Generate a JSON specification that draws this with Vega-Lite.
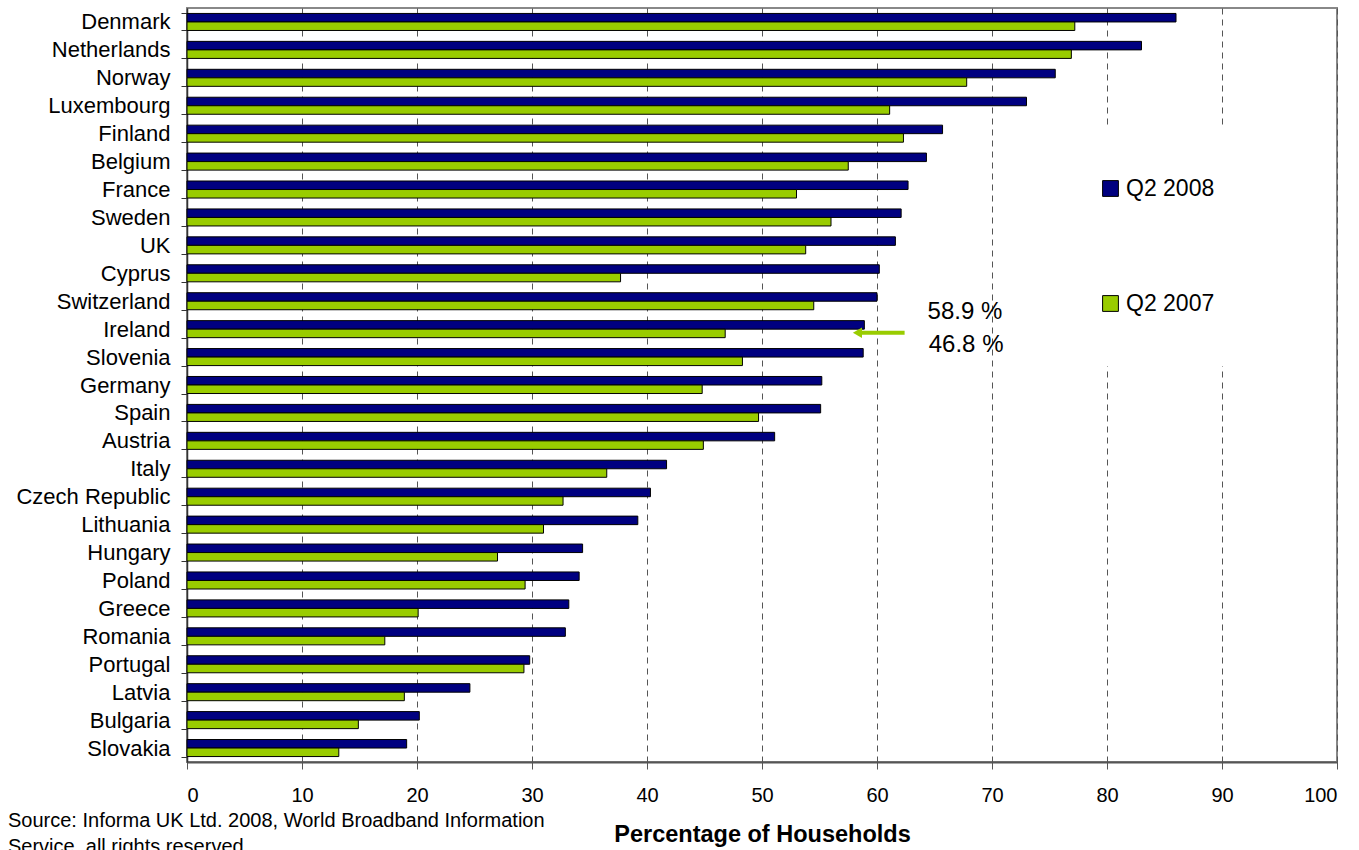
{
  "$schema": "https://vega.github.io/schema/vega-lite/v6.json",
  "width": 1150,
  "height": 754,
  "autosize": {"type": "none"},
  "padding": {"left": 187, "top": 8, "right": 22, "bottom": 88},
  "background": "white",
  "config": {
    "font": "Liberation Sans",
    "view": {"stroke": "#888888", "strokeWidth": 2},
    "legend": {
      "orient": "none",
      "legendX": 862,
      "legendY": 119,
      "padding": 50,
      "fillColor": "white",
      "symbolType": "square",
      "symbolSize": 250,
      "symbolStrokeColor": "black",
      "symbolStrokeWidth": 1,
      "labelFontSize": 23,
      "labelColor": "black",
      "labelOffset": 4,
      "rowPadding": 91,
      "title": null
    }
  },
  "title": {
    "text": ["Source: Informa UK Ltd. 2008, World Broadband Information", "Service, all rights reserved"],
    "orient": "bottom",
    "anchor": "start",
    "frame": "group",
    "fontSize": 20,
    "fontWeight": "normal",
    "color": "black",
    "lineHeight": 26,
    "offset": 0,
    "dx": -179,
    "dy": -35
  },
  "datasets": {
    "bars": [
      {"country": "Denmark", "period": "Q2 2008", "value": 86.0},
      {"country": "Denmark", "period": "Q2 2007", "value": 77.2},
      {"country": "Netherlands", "period": "Q2 2008", "value": 83.0},
      {"country": "Netherlands", "period": "Q2 2007", "value": 76.9},
      {"country": "Norway", "period": "Q2 2008", "value": 75.5},
      {"country": "Norway", "period": "Q2 2007", "value": 67.8},
      {"country": "Luxembourg", "period": "Q2 2008", "value": 73.0},
      {"country": "Luxembourg", "period": "Q2 2007", "value": 61.1},
      {"country": "Finland", "period": "Q2 2008", "value": 65.7},
      {"country": "Finland", "period": "Q2 2007", "value": 62.3},
      {"country": "Belgium", "period": "Q2 2008", "value": 64.3},
      {"country": "Belgium", "period": "Q2 2007", "value": 57.5},
      {"country": "France", "period": "Q2 2008", "value": 62.7},
      {"country": "France", "period": "Q2 2007", "value": 53.0},
      {"country": "Sweden", "period": "Q2 2008", "value": 62.1},
      {"country": "Sweden", "period": "Q2 2007", "value": 56.0},
      {"country": "UK", "period": "Q2 2008", "value": 61.6},
      {"country": "UK", "period": "Q2 2007", "value": 53.8},
      {"country": "Cyprus", "period": "Q2 2008", "value": 60.2},
      {"country": "Cyprus", "period": "Q2 2007", "value": 37.7},
      {"country": "Switzerland", "period": "Q2 2008", "value": 60.0},
      {"country": "Switzerland", "period": "Q2 2007", "value": 54.5},
      {"country": "Ireland", "period": "Q2 2008", "value": 58.9},
      {"country": "Ireland", "period": "Q2 2007", "value": 46.8},
      {"country": "Slovenia", "period": "Q2 2008", "value": 58.8},
      {"country": "Slovenia", "period": "Q2 2007", "value": 48.3},
      {"country": "Germany", "period": "Q2 2008", "value": 55.2},
      {"country": "Germany", "period": "Q2 2007", "value": 44.8},
      {"country": "Spain", "period": "Q2 2008", "value": 55.1},
      {"country": "Spain", "period": "Q2 2007", "value": 49.7},
      {"country": "Austria", "period": "Q2 2008", "value": 51.1},
      {"country": "Austria", "period": "Q2 2007", "value": 44.9},
      {"country": "Italy", "period": "Q2 2008", "value": 41.7},
      {"country": "Italy", "period": "Q2 2007", "value": 36.5},
      {"country": "Czech Republic", "period": "Q2 2008", "value": 40.3},
      {"country": "Czech Republic", "period": "Q2 2007", "value": 32.7},
      {"country": "Lithuania", "period": "Q2 2008", "value": 39.2},
      {"country": "Lithuania", "period": "Q2 2007", "value": 31.0},
      {"country": "Hungary", "period": "Q2 2008", "value": 34.4},
      {"country": "Hungary", "period": "Q2 2007", "value": 27.0},
      {"country": "Poland", "period": "Q2 2008", "value": 34.1},
      {"country": "Poland", "period": "Q2 2007", "value": 29.4},
      {"country": "Greece", "period": "Q2 2008", "value": 33.2},
      {"country": "Greece", "period": "Q2 2007", "value": 20.1},
      {"country": "Romania", "period": "Q2 2008", "value": 32.9},
      {"country": "Romania", "period": "Q2 2007", "value": 17.2},
      {"country": "Portugal", "period": "Q2 2008", "value": 29.8},
      {"country": "Portugal", "period": "Q2 2007", "value": 29.3},
      {"country": "Latvia", "period": "Q2 2008", "value": 24.6},
      {"country": "Latvia", "period": "Q2 2007", "value": 18.9},
      {"country": "Bulgaria", "period": "Q2 2008", "value": 20.2},
      {"country": "Bulgaria", "period": "Q2 2007", "value": 14.9},
      {"country": "Slovakia", "period": "Q2 2008", "value": 19.1},
      {"country": "Slovakia", "period": "Q2 2007", "value": 13.2}
    ],
    "arrow": [
      {"country": "Ireland", "from": 62.4, "to": 58.6, "tip": 58.3}
    ],
    "notes": [
      {"country": "Ireland", "label": "58.9 %", "pos": 64.4, "row": "upper"},
      {"country": "Ireland", "label": "46.8 %", "pos": 64.5, "row": "lower"}
    ]
  },
  "encoding": {
    "y": {
      "field": "country",
      "type": "nominal",
      "sort": null,
      "scale": {
        "domain": ["Denmark", "Netherlands", "Norway", "Luxembourg", "Finland", "Belgium", "France", "Sweden", "UK", "Cyprus", "Switzerland", "Ireland", "Slovenia", "Germany", "Spain", "Austria", "Italy", "Czech Republic", "Lithuania", "Hungary", "Poland", "Greece", "Romania", "Portugal", "Latvia", "Bulgaria", "Slovakia"],
        "paddingInner": 0.39,
        "paddingOuter": 0.195
      },
      "axis": {
        "title": null,
        "grid": false,
        "domainColor": "#333333",
        "domainWidth": 1.5,
        "tickColor": "#333333",
        "tickSize": 6,
        "tickBand": "extent",
        "labelFontSize": 22,
        "labelColor": "black",
        "labelPadding": 11
      }
    }
  },
  "layer": [
    {
      "data": {"name": "bars"},
      "mark": {"type": "bar", "stroke": "black", "strokeWidth": 1},
      "encoding": {
        "x": {
          "field": "value",
          "type": "quantitative",
          "scale": {"domain": [0, 100], "nice": false, "zero": true},
          "axis": {
            "values": [0, 10, 20, 30, 40, 50, 60, 70, 80, 90, 100],
            "grid": true,
            "gridDash": [6, 5],
            "gridColor": "#555555",
            "gridWidth": 1,
            "domainColor": "#555555",
            "domainWidth": 2,
            "tickColor": "#555555",
            "tickSize": 7,
            "labelFontSize": 20,
            "labelColor": "black",
            "labelPadding": 16,
            "title": "Percentage of Households",
            "titleFontSize": 23.5,
            "titleFontWeight": "bold",
            "titleColor": "black",
            "titleY": 79,
            "titleBaseline": "alphabetic"
          }
        },
        "yOffset": {
          "field": "period",
          "type": "nominal",
          "sort": ["Q2 2008", "Q2 2007"],
          "scale": {"domain": ["Q2 2008", "Q2 2007"], "paddingInner": 0, "paddingOuter": 0}
        },
        "color": {
          "field": "period",
          "type": "nominal",
          "scale": {"domain": ["Q2 2008", "Q2 2007"], "range": ["#000080", "#99CC00"]}
        }
      }
    },
    {
      "data": {"name": "arrow"},
      "mark": {"type": "rule", "color": "#99CC00", "strokeWidth": 4, "yOffset": 3.5},
      "encoding": {
        "x": {"field": "from", "type": "quantitative"},
        "x2": {"field": "to"}
      }
    },
    {
      "data": {"name": "arrow"},
      "mark": {"type": "point", "shape": "triangle-left", "filled": true, "color": "#99CC00", "size": 110, "opacity": 1, "yOffset": 3.5},
      "encoding": {
        "x": {"field": "tip", "type": "quantitative"}
      }
    },
    {
      "data": {"name": "notes"},
      "transform": [{"filter": "datum.row === 'upper'"}],
      "mark": {"type": "text", "align": "left", "baseline": "alphabetic", "dy": -10, "fontSize": 24, "color": "black"},
      "encoding": {
        "x": {"field": "pos", "type": "quantitative"},
        "text": {"field": "label"}
      }
    },
    {
      "data": {"name": "notes"},
      "transform": [{"filter": "datum.row === 'lower'"}],
      "mark": {"type": "text", "align": "left", "baseline": "alphabetic", "dy": 23, "fontSize": 24, "color": "black"},
      "encoding": {
        "x": {"field": "pos", "type": "quantitative"},
        "text": {"field": "label"}
      }
    }
  ]
}
